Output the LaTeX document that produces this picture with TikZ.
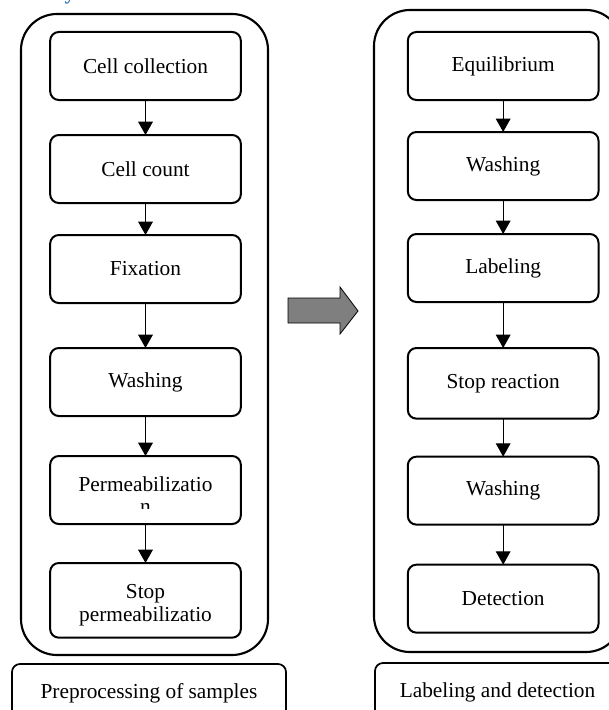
\documentclass[tikz,border=0pt]{standalone}
\usepackage{fontspec}
\setmainfont{Liberation Serif}
\usetikzlibrary{arrows.meta,positioning}
\definecolor{headblue}{HTML}{2E74B5}
\definecolor{arrowgray}{HTML}{7F7F7F}

\begin{document}
\begin{tikzpicture}[x=0.75pt,y=-0.75pt,>={Triangle[length=10pt,width=11pt]},font=\fontsize{16}{17}\selectfont]
  \tikzstyle{stage}=[rectangle,rounded corners=6.5pt,line width=1.5pt,draw=black,fill=white,
                     minimum width=143pt,minimum height=51pt,outer sep=0pt,align=center]
  \tikzstyle{group}=[rounded corners=27pt,line width=1.6pt]
  \tikzstyle{caption}=[rectangle,rounded corners=6pt,line width=1.3pt,draw=black,
                       minimum height=43.5pt,outer sep=0pt]
  \tikzstyle{flow}=[->,line width=0.8pt]

  \useasboundingbox (0,0) rectangle (609,710);

  % Heading, cut off.
  \node [text=headblue,font=\fontsize{16}{17}\selectfont\bfseries,anchor=base,inner sep=0pt] (hd) at (70,-0.5) {y};

  % Frames.
  \draw [group] (21,14) rectangle (268,655);
  \draw [group] (374,10) rectangle (622,652);

  % Preprocessing.
  \node [stage] (c11) at (145.5,66) {Cell collection};
  \node [stage] (c12) [below=26.25pt of c11] {Cell count};
  \node [stage] (c13) [below=24pt of c12] {Fixation};
  \node [stage] (c14) [below=33.75pt of c13] {Washing};
  \node [stage] (c15) [below=30pt of c14] {};
  \node [stage,minimum height=56pt] (c16) [below=29.25pt of c15] {\rule{0pt}{18pt}Stop\\permeabilizatio};
  \begin{scope}
    \clip (c15.north west) rectangle (241,508.5);
    \node [align=center,anchor=north,inner sep=0pt] (c15t) at (145.5,476) {Permeabilizatio\\n};
  \end{scope}

  % Labeling and detection.
  \node [stage] (c21) [right=125.25pt of c11] {Equilibrium};
  \node [stage] (c22) [below=24pt of c21] {Washing};
  \node [stage] (c23) [below=25.5pt of c22] {Labeling};
  \node [stage,minimum height=53pt] (c24) [below=34.5pt of c23] {Stop reaction};
  \node [stage] (c25) [below=28.5pt of c24] {Washing};
  \node [stage] (c26) [below=30pt of c25] {Detection};

  \path (c11) edge [flow] (c12);
  \path (c12) edge [flow] (c13);
  \path (c13) edge [flow] (c14);
  \path (c14) edge [flow] (c15);
  \path (c15) edge [flow] (c16);
  \path (c21) edge [flow] (c22);
  \path (c22) edge [flow] (c23);
  \path (c23) edge [flow] (c24);
  \path (c24) edge [flow] (c25);
  \path (c25) edge [flow] (c26);

  % Big arrow between the frames.
  \draw [line width=0.6pt,fill=arrowgray] (288,298) -- (340,298) -- (340,287) -- (358,311)
        -- (340,334) -- (340,323) -- (288,323) -- cycle;

  % Captions.
  \node [caption,minimum width=205.5pt] (t1) at (149,693) {Preprocessing of samples};
  \node [caption,minimum width=183.75pt] (t2) at (497.5,692) {Labeling and detection};
\end{tikzpicture}
\end{document}
